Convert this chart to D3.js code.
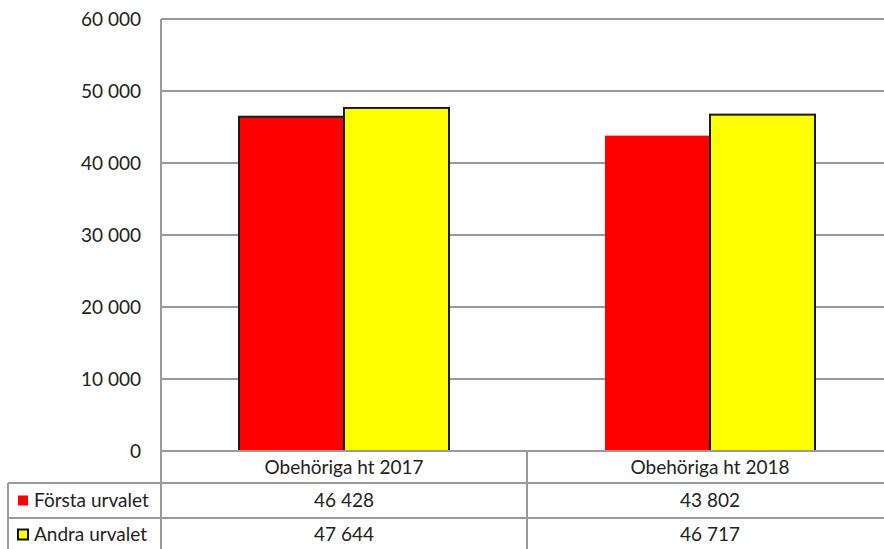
<!DOCTYPE html>
<html>
<head>
<meta charset="utf-8">
<script src="https://cdn.jsdelivr.net/npm/d3@7"></script>
<style>
  html, body { margin: 0; padding: 0; background: #fff; }
  svg { display: block; }
  text { font-family: Lato, "Liberation Sans", sans-serif; fill: #222; }
</style>
</head>
<body>
<svg id="chart" width="884" height="549"></svg>
<script>
const categories = ["Obehöriga ht 2017", "Obehöriga ht 2018"];
const seriesNames = ["Första urvalet", "Andra urvalet"];
const forstaUrvalet = [46428, 43802];
const andraUrvalet = [47644, 46717];
const yTicks = [0, 10000, 20000, 30000, 40000, 50000, 60000];
const seriesValues = [forstaUrvalet, andraUrvalet];
const seriesColors = ["#ff0000", "#ffff00"];

(function () {
const svg = d3.select("#chart");
const pLeft = 161, pRight = 893, pTop = 19, pBottom = 451;
const row1 = 483, row2 = 518, tableBottom = 553, tableLeft = 8;
const fontSize = 19;
const fmt = v => d3.format(",")(v).replace(/,/g, " ");

const y = d3.scaleLinear().domain([0, 60000]).range([pBottom, pTop]);
const x0 = d3.scaleBand().domain(categories).range([pLeft, pRight]).paddingInner(0).paddingOuter(0);
const x1 = d3.scaleBand().domain(seriesNames).range([0, x0.bandwidth()]).paddingInner(0).paddingOuter(0.743);

const grid = "#9a9a9a";

// gridlines
svg.append("g").selectAll("line").data(yTicks.filter(t => t > 0)).join("line")
  .attr("x1", pLeft).attr("x2", pRight)
  .attr("y1", d => Math.round(y(d))).attr("y2", d => Math.round(y(d)))
  .attr("stroke", grid).attr("stroke-width", 2);

// y axis labels
const yAxis = svg.append("g").attr("transform", `translate(${pLeft - 20},0)`)
  .call(d3.axisLeft(y).tickValues(yTicks).tickFormat(fmt).tickSize(0).tickPadding(0));
yAxis.select(".domain").remove();
yAxis.selectAll("text").attr("font-size", fontSize).attr("font-family", "Lato, sans-serif").attr("fill", "#222");

// bars
const rows = [];
categories.forEach((c, ci) => seriesNames.forEach((s, si) => rows.push({c, s, si, ci, v: seriesValues[si][ci]})));
svg.append("g").selectAll("rect").data(rows).join("rect")
  .attr("x", d => x0(d.c) + x1(d.s))
  .attr("y", d => y(d.v))
  .attr("width", x1.bandwidth())
  .attr("height", d => y(0) - y(d.v))
  .attr("fill", d => seriesColors[d.si])
  .attr("stroke", d => (d.si === 0 && d.ci === 1) ? "none" : "#1a1a1a")
  .attr("stroke-width", 2);

// table lines
const tl = svg.append("g").attr("stroke", grid).attr("stroke-width", 2);
tl.append("line").attr("x1", pLeft).attr("x2", pRight + 10).attr("y1", pBottom).attr("y2", pBottom);
tl.append("line").attr("x1", tableLeft).attr("x2", pRight + 10).attr("y1", row1).attr("y2", row1);
tl.append("line").attr("x1", tableLeft).attr("x2", pRight + 10).attr("y1", row2).attr("y2", row2);
tl.append("line").attr("x1", tableLeft).attr("x2", tableLeft).attr("y1", row1).attr("y2", tableBottom);
tl.append("line").attr("x1", pLeft).attr("x2", pLeft).attr("y1", pTop).attr("y2", tableBottom);
categories.slice(1).forEach(c => {
  tl.append("line").attr("x1", x0(c)).attr("x2", x0(c)).attr("y1", pBottom).attr("y2", tableBottom);
});

// category labels
svg.append("g").selectAll("text").data(categories).join("text")
  .attr("x", d => x0(d) + x0.bandwidth() / 2)
  .attr("y", (pBottom + row1) / 2)
  .attr("dy", "0.35em")
  .attr("text-anchor", "middle")
  .attr("font-size", fontSize)
  .text(d => d);

// values in table + legend keys
const rowYs = [(row1 + row2) / 2, (row2 + tableBottom) / 2 - 1];
seriesNames.forEach((s, si) => {
  svg.append("g").selectAll("text").data(categories).join("text")
    .attr("x", d => x0(d) + x0.bandwidth() / 2)
    .attr("y", rowYs[si])
    .attr("dy", "0.35em")
    .attr("text-anchor", "middle")
    .attr("font-size", fontSize)
    .text((d, i) => fmt(seriesValues[si][i]));
  const sw = svg.append("rect")
    .attr("fill", seriesColors[si])
    .attr("x", 18).attr("y", rowYs[si] - 5).attr("width", 10).attr("height", 10);
  if (si === 1) sw.attr("stroke", "#111").attr("stroke-width", 2);
  svg.append("text")
    .attr("x", 34).attr("y", rowYs[si]).attr("dy", "0.35em")
    .attr("font-size", fontSize)
    .text(s);
});
})();
</script>
</body>
</html>
